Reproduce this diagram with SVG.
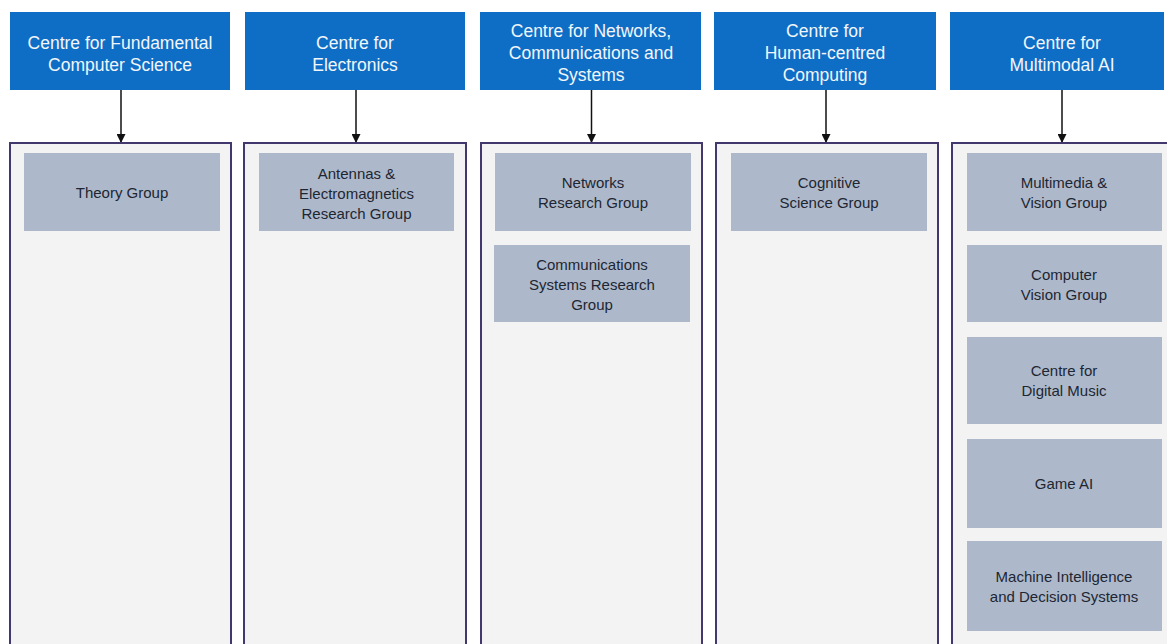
<svg xmlns="http://www.w3.org/2000/svg" width="1167" height="644" viewBox="0 0 1167 644">
<defs>
<marker id="ah" viewBox="0 0 10 10" refX="10" refY="5" markerWidth="9" markerHeight="9" markerUnits="userSpaceOnUse" orient="auto">
<path d="M0,0 L10,5 L0,10 Z" fill="#111"/>
</marker>
<style>
.hdr{fill:#0E6EC5;}
.htx{font-family:"Liberation Sans",Arial,sans-serif;font-size:17.5px;fill:#F2F6FB;text-anchor:middle;}
.col{fill:#F3F3F4;stroke:#43386E;stroke-width:2;}
.grp{fill:#ADB9CA;}
.gtx{font-family:"Liberation Sans",Arial,sans-serif;font-size:15px;fill:#1E2633;text-anchor:middle;}
.con{stroke:#111;stroke-width:1.5;fill:none;marker-end:url(#ah);}
</style>
</defs>
<rect width="1167" height="644" fill="#FFFFFF"/>

<g id="connectors">
<line class="con" x1="121" y1="90" x2="121" y2="143"/>
<line class="con" x1="356" y1="90" x2="356" y2="143"/>
<line class="con" x1="591.5" y1="90" x2="591.5" y2="143"/>
<line class="con" x1="826" y1="90" x2="826" y2="143"/>
<line class="con" x1="1062" y1="90" x2="1062" y2="143"/>
</g>

<g id="h1"><rect class="hdr" x="10" y="12" width="220" height="78"/>
<text class="htx" x="120" y="49">Centre for Fundamental</text>
<text class="htx" x="120" y="71">Computer Science</text></g>
<g id="h2"><rect class="hdr" x="245" y="12" width="220" height="78"/>
<text class="htx" x="355" y="49">Centre for</text>
<text class="htx" x="355" y="71">Electronics</text></g>
<g id="h3"><rect class="hdr" x="480" y="12" width="221" height="78"/>
<text class="htx" x="591" y="37">Centre for Networks,</text>
<text class="htx" x="591" y="59">Communications and</text>
<text class="htx" x="591" y="81">Systems</text></g>
<g id="h4"><rect class="hdr" x="714" y="12" width="222" height="78"/>
<text class="htx" x="825" y="37">Centre for</text>
<text class="htx" x="825" y="59">Human-centred</text>
<text class="htx" x="825" y="81">Computing</text></g>
<g id="h5"><rect class="hdr" x="950" y="12" width="214" height="78"/>
<text class="htx" x="1062" y="49">Centre for</text>
<text class="htx" x="1062" y="71">Multimodal AI</text></g>

<g id="c1"><rect class="col" x="10" y="143" width="221" height="510"/></g>
<g id="c2"><rect class="col" x="244" y="143" width="222" height="510"/></g>
<g id="c3"><rect class="col" x="481" y="143" width="221" height="510"/></g>
<g id="c4"><rect class="col" x="716" y="143" width="222" height="510"/></g>
<g id="c5"><rect class="col" x="952" y="143" width="222" height="510"/></g>

<g id="g-theory"><rect class="grp" x="24" y="153" width="196" height="78"/>
<text class="gtx" x="122" y="198">Theory Group</text></g>

<g id="g-antennas"><rect class="grp" x="259" y="153" width="195" height="78"/>
<text class="gtx" x="356.5" y="179">Antennas &amp;</text>
<text class="gtx" x="356.5" y="199">Electromagnetics</text>
<text class="gtx" x="356.5" y="219">Research Group</text></g>

<g id="g-networks"><rect class="grp" x="495" y="153" width="196" height="78"/>
<text class="gtx" x="593" y="188">Networks</text>
<text class="gtx" x="593" y="208">Research Group</text></g>
<g id="g-comms"><rect class="grp" x="494" y="245" width="196" height="77"/>
<text class="gtx" x="592" y="270">Communications</text>
<text class="gtx" x="592" y="290">Systems Research</text>
<text class="gtx" x="592" y="310">Group</text></g>

<g id="g-cognitive"><rect class="grp" x="731" y="153" width="196" height="78"/>
<text class="gtx" x="829" y="188">Cognitive</text>
<text class="gtx" x="829" y="208">Science Group</text></g>

<g id="g-multimedia"><rect class="grp" x="967" y="153" width="195" height="78"/>
<text class="gtx" x="1064" y="188">Multimedia &amp;</text>
<text class="gtx" x="1064" y="208">Vision Group</text></g>
<g id="g-cv"><rect class="grp" x="967" y="245" width="195" height="77"/>
<text class="gtx" x="1064" y="279.5">Computer</text>
<text class="gtx" x="1064" y="299.5">Vision Group</text></g>
<g id="g-music"><rect class="grp" x="967" y="337" width="195" height="87"/>
<text class="gtx" x="1064" y="376">Centre for</text>
<text class="gtx" x="1064" y="396">Digital Music</text></g>
<g id="g-gameai"><rect class="grp" x="967" y="439" width="195" height="89"/>
<text class="gtx" x="1064" y="489">Game AI</text></g>
<g id="g-mids"><rect class="grp" x="967" y="541" width="195" height="90"/>
<text class="gtx" x="1064" y="582">Machine Intelligence</text>
<text class="gtx" x="1064" y="602">and Decision Systems</text></g>
</svg>
